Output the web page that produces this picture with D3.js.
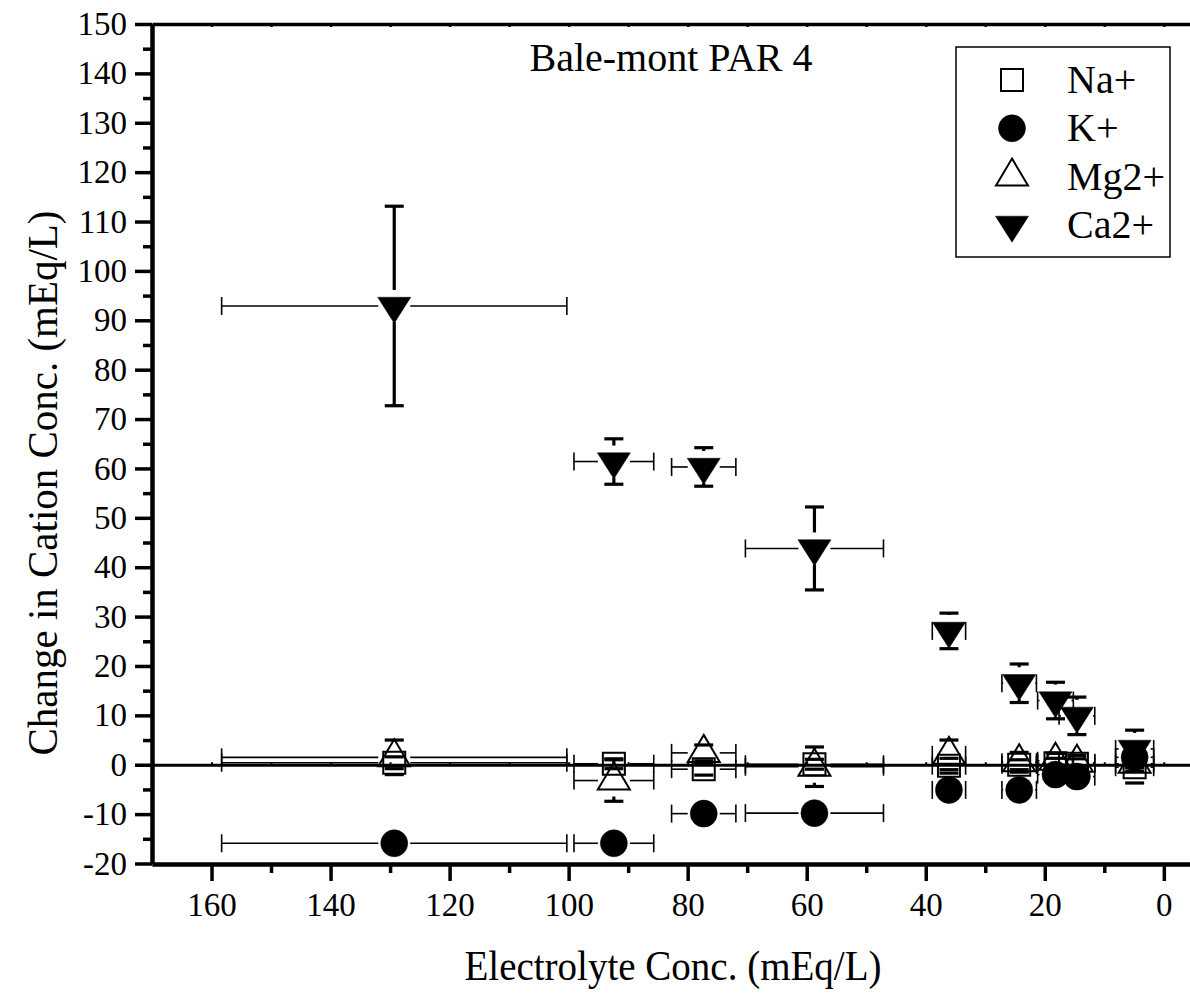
<!DOCTYPE html>
<html>
<head>
<meta charset="utf-8">
<script src="https://cdn.jsdelivr.net/npm/d3@7"></script>
</head>
<body style="margin:0;background:#fff">
<div class="chart"></div>
<script>
const WIDTH = 1190;
const HEIGHT = 993;

// electrolyte concentration (x) and its spread, shared by all four cations
const conc = [129.3, 92.4, 77.3, 58.7, 36.1, 24.3, 18.2, 14.6, 4.9];
const concErr = [29.0, 6.7, 5.4, 11.6, 2.8, 2.9, 3.0, 3.0, 3.2];

const naVals = [0.4, 0.2, -0.9, 0.1, -0.2, 0.0, 0.3, 0.2, -0.5];
const naErr = [1.2, 1.0, 1.2, 1.0, 1.5, 1.0, 1.0, 1.0, 3.2];
const kVals = [-15.9, -15.9, -9.9, -9.8, -5.1, -5.1, -2.0, -2.4, 1.5];
const kErr = [1.0, 1.0, 1.0, 1.0, 1.0, 1.0, 1.0, 1.0, 1.0];
const mgVals = [1.5, -3.2, 2.4, -0.4, 2.0, 0.5, 0.8, 0.4, 0.2];
const mgErr = [3.5, 4.2, 1.6, 4.0, 3.0, 2.0, 1.5, 1.5, 1.5];
const caVals = [92.9, 61.4, 60.3, 43.8, 27.1, 16.5, 13.0, 9.9, 3.2];
const caErr = [20.2, 4.6, 3.9, 8.4, 3.6, 3.9, 3.7, 3.8, 3.8];

const seriesNames = ['Na+', 'K+', 'Mg2+', 'Ca2+'];
const xTicksMajor = [160, 140, 120, 100, 80, 60, 40, 20, 0];
const xTicksMinor = [150, 130, 110, 90, 70, 50, 30, 10];
const yTicksMajor = d3.range(-20, 151, 10);
const yTicksMinor = d3.range(-15, 150, 10);

const series = [
  {name: seriesNames[0], vals: naVals, err: naErr, shape: 'square'},
  {name: seriesNames[1], vals: kVals, err: kErr, shape: 'circle'},
  {name: seriesNames[2], vals: mgVals, err: mgErr, shape: 'up'},
  {name: seriesNames[3], vals: caVals, err: caErr, shape: 'down'},
];

const SHAPES = {
  square: {d: 'M-11,-11h22v22h-22Z', fill: 'none'},
  circle: {d: d3.symbol(d3.symbolCircle, Math.PI * 13.5 * 13.5)(), fill: '#000'},
  up: {d: 'M0,-18L16,9L-16,9Z', fill: 'none'},
  down: {d: 'M0,17.3L16.5,-8.7L-16.5,-8.7Z', fill: '#000'},
};

const GAP = 16;

function serif(sel, size) {
  return sel.style('font-family', '"Liberation Serif", monospace')
      .attr('font-size', size)
      .attr('fill', '#000');
}

const svg = d3.select('.chart')
    .append('svg')
    .style('display', 'block')
    .attr('width', WIDTH)
    .attr('height', HEIGHT);

const x = d3.scaleLinear().domain([170, -4.4]).range([152, 1190]);
const y = d3.scaleLinear().domain([-20, 150]).range([863.5, 24]);

// axes
function styleAxis(g) {
  g.attr('font-family', null).attr('font-size', null);
  g.select('.domain').attr('stroke-width', 4);
  g.selectAll('.tick line').attr('stroke-width', 3.5);
  g.selectAll('text').call(serif, 33);
}

svg.append('g')
    .attr('transform', 'translate(0,864)')
    .call(d3.axisBottom(x).tickValues(xTicksMinor).tickSize(9).tickSizeOuter(0).tickFormat(''))
    .call(styleAxis);
svg.append('g')
    .attr('transform', 'translate(0,864)')
    .call(d3.axisBottom(x).tickValues(xTicksMajor).tickSize(17).tickSizeOuter(0)
        .tickPadding(12).tickFormat(d => String(d)))
    .call(styleAxis);

svg.append('g')
    .attr('transform', 'translate(152,0)')
    .call(d3.axisLeft(y).tickValues(yTicksMinor).tickSize(9).tickSizeOuter(0).tickFormat(''))
    .call(styleAxis);
svg.append('g')
    .attr('transform', 'translate(152,0)')
    .call(d3.axisLeft(y).tickValues(yTicksMajor).tickSize(17).tickSizeOuter(0)
        .tickPadding(8).tickFormat(d => String(d)))
    .call(styleAxis);

// top line with small inner ticks
svg.append('g')
    .attr('transform', 'translate(0,24)')
    .call(d3.axisBottom(x).tickValues(d3.range(160, -1, -10)).tickSize(3).tickSizeOuter(0)
        .tickFormat(''))
    .call(g => g.select('.domain').attr('stroke-width', 3.5))
    .call(g => g.selectAll('.tick line').attr('stroke-width', 2.5));

// zero line
svg.append('g')
    .attr('transform', `translate(0,${y(0)})`)
    .call(d3.axisTop(x).tickValues(d3.range(160, -1, -10)).tickSize(2.5).tickSizeOuter(0)
        .tickFormat(''))
    .call(g => g.select('.domain').attr('stroke-width', 3))
    .call(g => g.selectAll('.tick line').attr('stroke-width', 2));

// error bars
const bars = svg.append('g').attr('stroke', '#000').attr('fill', 'none');

series.forEach(s => {
  s.vals.forEach((v, i) => {
    const cx = x(conc[i]);
    const cy = y(v);
    // horizontal (electrolyte) error
    const xl = x(conc[i] + concErr[i]);
    const xr = x(conc[i] - concErr[i]);
    if (xl < cx - GAP) {
      bars.append('line').attr('x1', xl).attr('x2', cx - GAP).attr('y1', cy).attr('y2', cy)
          .attr('stroke-width', 1.6);
    }
    if (xr > cx + GAP) {
      bars.append('line').attr('x1', cx + GAP).attr('x2', xr).attr('y1', cy).attr('y2', cy)
          .attr('stroke-width', 1.6);
    }
    [xl, xr].forEach(xe => {
      bars.append('line').attr('x1', xe).attr('x2', xe).attr('y1', cy - 9).attr('y2', cy + 9)
          .attr('stroke-width', 1.6);
    });
    // vertical (cation) error
    const yt = y(v + s.err[i]);
    const yb = y(v - s.err[i]);
    if (yt < cy - GAP) {
      bars.append('line').attr('x1', cx).attr('x2', cx).attr('y1', yt).attr('y2', cy - GAP)
          .attr('stroke-width', 3.2);
    }
    if (yb > cy + GAP) {
      bars.append('line').attr('x1', cx).attr('x2', cx).attr('y1', cy + GAP).attr('y2', yb)
          .attr('stroke-width', 3.2);
    }
    [yt, yb].forEach(ye => {
      bars.append('line').attr('x1', cx - 9.5).attr('x2', cx + 9.5).attr('y1', ye).attr('y2', ye)
          .attr('stroke-width', 3.2);
    });
  });
});

// symbols
series.forEach(s => {
  const shape = SHAPES[s.shape];
  svg.append('g').selectAll('path')
      .data(s.vals.map((v, i) => ({x: conc[i], y: v})))
      .enter().append('path')
      .attr('d', shape.d)
      .attr('transform', d => `translate(${x(d.x)},${y(d.y)})`)
      .attr('fill', shape.fill)
      .attr('stroke', '#000')
      .attr('stroke-width', shape.fill === 'none' ? 2 : 0.5);
});

// title
svg.append('text')
    .attr('x', 671).attr('y', 71)
    .attr('text-anchor', 'middle')
    .call(serif, 40)
    .text('Bale-mont PAR 4');

// axis titles
svg.append('text')
    .attr('x', 673).attr('y', 980)
    .attr('text-anchor', 'middle')
    .call(serif, 42)
    .attr('textLength', 417)
    .attr('lengthAdjust', 'spacingAndGlyphs')
    .text('Electrolyte Conc. (mEq/L)');

svg.append('text')
    .attr('transform', 'translate(57,483) rotate(-90)')
    .attr('text-anchor', 'middle')
    .call(serif, 42)
    .attr('textLength', 545)
    .attr('lengthAdjust', 'spacingAndGlyphs')
    .text('Change in Cation Conc. (mEq/L)');

// legend
const legend = svg.append('g');
legend.append('rect')
    .attr('x', 956).attr('y', 47).attr('width', 214).attr('height', 210)
    .attr('fill', '#fff').attr('stroke', '#000').attr('stroke-width', 1.5);

const rows = legend.selectAll('g.row')
    .data(series)
    .enter().append('g')
    .attr('class', 'row')
    .attr('transform', (d, i) => `translate(0,${93 + i * 48.3})`);

rows.append('path')
    .attr('d', d => SHAPES[d.shape].d)
    .attr('transform', 'translate(1012,-13)')
    .attr('fill', d => SHAPES[d.shape].fill)
    .attr('stroke', '#000')
    .attr('stroke-width', d => SHAPES[d.shape].fill === 'none' ? 2 : 0.5);

rows.append('text')
    .attr('x', 1067).attr('y', 0)
    .call(serif, 40)
    .text(d => d.name);
</script>
</body>
</html>
